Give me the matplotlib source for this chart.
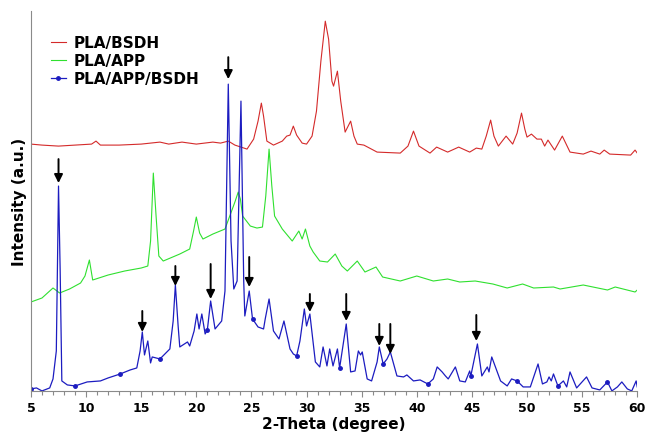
import numpy as np
import matplotlib
matplotlib.use("Agg")
import matplotlib.pyplot as plt
from matplotlib.ticker import MultipleLocator

# PLA/BSDH (red, top trace) - 2theta, intensity (a.u.)
red_theta = [5.0, 6.0, 7.5, 9.0, 10.5, 10.9, 11.3, 13.0, 15.0, 16.7, 17.5, 18.7, 20.0, 21.5,
             22.2, 22.9, 23.5, 24.6, 25.2, 25.6, 25.9, 26.1, 26.4, 27.0, 27.8, 28.2, 28.5,
             28.8, 29.1, 29.6, 30.0, 30.5, 30.9, 31.3, 31.7, 32.0, 32.3, 32.45, 32.8, 33.1,
             33.5, 34.0, 34.3, 34.6, 35.2, 36.4, 38.5, 39.2, 39.7, 40.2, 41.2, 41.8, 42.8,
             43.8, 44.8, 45.4, 45.9, 46.3, 46.7, 47.0, 47.4, 48.1, 48.7, 49.1, 49.5, 49.8,
             50.0, 50.4, 50.9, 51.3, 51.6, 51.9, 52.5, 53.2, 53.9, 55.1, 55.8, 56.6, 57.0,
             57.5, 59.4, 59.8, 60.0]
red_int = [247, 246, 245, 246, 247, 250, 246, 246, 247, 249, 247, 249, 247, 249,
           248, 250, 246, 242, 252, 270, 288, 275, 250, 246, 250, 255, 256,
           265, 256, 248, 247, 255, 280, 330, 370, 352, 310, 305, 320, 290,
           259, 270, 255, 247, 246, 239, 238, 245, 260, 245, 238, 244, 239,
           244, 239, 243, 242, 255, 271, 255, 245, 255, 247, 258, 278, 262,
           254, 257, 252, 252, 245, 251, 241, 255, 239, 237, 240, 237, 241,
           237, 236, 241, 238]

# PLA/APP (green, middle trace)
green_theta = [5.0, 6.0, 7.0, 7.6, 8.5, 9.5, 9.9, 10.3, 10.6, 12.0, 13.5, 15.0, 15.6, 15.85,
               16.1, 16.35, 16.6, 17.0, 18.5, 19.4, 19.75, 20.0, 20.3, 20.6, 21.5, 22.6,
               23.2, 23.5, 23.8, 24.0, 24.2, 24.9, 25.5, 26.0, 26.3, 26.6, 26.85, 27.1,
               27.8, 28.7, 29.3, 29.6, 29.9, 30.3, 30.6, 31.2, 31.9, 32.6, 33.2, 33.7,
               34.6, 35.3, 36.3, 36.9, 38.5, 40.0, 41.5, 42.8, 43.9, 45.3, 46.9, 48.2,
               49.6, 50.6, 52.4, 53.0, 55.1, 57.3, 58.0, 59.8, 60.0]
green_int = [89, 93, 103, 98, 102, 108, 115, 131, 111, 116, 120, 123, 125, 150,
             218, 175, 135, 130, 137, 142, 160, 174, 158, 152, 157, 162,
             180, 189, 199, 192, 175, 165, 163, 164, 195, 242, 205, 175,
             162, 150, 160, 152, 162, 145, 139, 130, 129, 137, 125, 120,
             130, 119, 124, 114, 110, 115, 110, 112, 109, 110, 107, 103,
             107, 103, 104, 102, 106, 101, 104, 99, 101]

# PLA/APP/BSDH (blue, bottom trace)
blue_theta = [5.0, 5.5, 6.0, 6.7, 7.0, 7.3, 7.5, 7.65, 7.8, 8.3, 9.0, 10.1, 11.3, 12.0, 13.1,
              14.0, 14.6, 14.9, 15.1, 15.3, 15.6, 15.85, 16.0, 16.7, 17.6, 17.9, 18.1,
              18.35, 18.5, 19.2, 19.4, 19.8, 20.05, 20.25, 20.5, 20.8, 21.0, 21.3, 21.7,
              22.3, 22.6, 22.9, 23.15, 23.4, 23.7, 24.05, 24.3, 24.4, 24.8, 25.1, 25.6,
              26.1, 26.25, 26.6, 27.0, 27.5, 27.95, 28.5, 28.8, 29.1, 29.4, 29.8, 30.0,
              30.3, 30.8, 31.2, 31.5, 31.85, 32.1, 32.4, 32.8, 33.0, 33.6, 34.0, 34.4,
              34.7, 34.9, 35.05, 35.5, 35.9, 36.4, 36.6, 36.95, 37.3, 37.6, 38.2, 38.8,
              39.1, 39.7, 40.3, 41.0, 41.5, 41.85, 42.3, 42.6, 42.85, 43.5, 43.9, 44.4,
              44.8, 44.9, 45.5, 45.9, 46.4, 46.55, 46.8, 47.6, 48.2, 48.6, 49.1, 49.65,
              50.3, 51.0, 51.4, 51.8, 52.0, 52.2, 52.4, 52.8, 53.3, 53.6, 53.9, 54.5,
              55.4, 55.9, 56.6, 57.3, 57.7, 58.2, 58.6, 59.1, 59.5, 59.9, 60.0]
blue_int = [2, 3, 0, 3, 12, 40, 205, 120, 10, 6, 5, 9, 10, 13, 17,
            21, 23, 40, 59, 36, 50, 28, 34, 32, 42, 70, 106,
            65, 44, 49, 45, 60, 77, 62, 77, 57, 61, 90, 62,
            70, 100, 307, 150, 102, 110, 290, 110, 75, 100, 72, 64,
            62, 72, 92, 60, 52, 70, 42, 37, 35, 50, 82, 65,
            77, 29, 24, 44, 25, 42, 25, 42, 23, 67, 19, 20,
            40, 36, 39, 12, 10, 29, 44, 27, 32, 39, 15, 14,
            16, 10, 11, 7, 12, 24, 19, 15, 12, 24, 10, 9,
            20, 15, 47, 15, 24, 19, 34, 10, 5, 12, 10, 4,
            4, 27, 7, 9, 14, 10, 17, 5, 10, 4, 19, 3,
            14, 3, 1, 9, 0, 4, 9, 2, 0, 10, 4]

# arrows marking the BSDH peaks: position, tail, head
arrow_theta = [7.5, 15.1, 18.1, 21.3, 22.9, 24.8, 30.3, 33.6, 36.6, 37.6, 45.4]
arrow_tail = [232, 80, 125, 127, 334, 134, 97, 97, 67, 67, 76]
arrow_head = [208, 59, 105, 92, 312, 104, 79, 70, 45, 37, 50]

# dots drawn along the blue trace every 4 degrees
blue_dot_theta = [5, 9, 13, 17, 21, 25, 29, 33, 37, 41, 45, 49, 53, 57]

fig = plt.figure(figsize=(6.45, 4.35), dpi=100)
ax = fig.add_axes([0.048, 0.099, 0.94, 0.873])

ax.plot(red_theta, red_int, color="#d42a2a", lw=0.8, label="PLA/BSDH")
ax.plot(green_theta, green_int, color="#2fe02f", lw=0.8, label="PLA/APP")
bt = np.array(blue_theta)
dot_idx = [int(np.argmin(np.abs(bt - t))) for t in blue_dot_theta]
ax.plot(blue_theta, blue_int, color="#1c1cc0", lw=0.9, marker="o", ms=2.5,
        markevery=dot_idx, label="PLA/APP/BSDH")

for x, t, h in zip(arrow_theta, arrow_tail, arrow_head):
    ax.annotate("", xy=(x, h), xytext=(x, t),
                arrowprops=dict(arrowstyle="-|>,head_length=0.5,head_width=0.25",
                                color="black", lw=1.4, shrinkA=0, shrinkB=0))

ax.set_xlim(5, 60)
ax.set_ylim(0, 380)
ax.xaxis.set_major_locator(MultipleLocator(5))
ax.xaxis.set_minor_locator(MultipleLocator(1))
ax.set_yticks([])
for s in ["top", "right"]:
    ax.spines[s].set_visible(False)
for s in ["left", "bottom"]:
    ax.spines[s].set_color("#8a8a8a")
ax.tick_params(axis="x", which="both", direction="out", color="#8a8a8a", width=0.8)
ax.tick_params(axis="x", which="major", length=4, labelsize=9, pad=3)
ax.tick_params(axis="x", which="minor", length=3)
for lab in ax.get_xticklabels():
    lab.set_fontweight("bold")

ax.set_xlabel("2-Theta (degree)", fontsize=11, fontweight="bold", labelpad=2)
ax.set_ylabel("Intensity (a.u.)", fontsize=11, fontweight="bold", labelpad=3)

leg = ax.legend(loc="upper left", bbox_to_anchor=(0.015, 0.965), frameon=False,
                prop={"weight": "bold", "size": 11}, handlelength=1.0,
                handletextpad=0.5, labelspacing=0.2, borderaxespad=0.3)

fig.savefig("out.png", dpi=100)
